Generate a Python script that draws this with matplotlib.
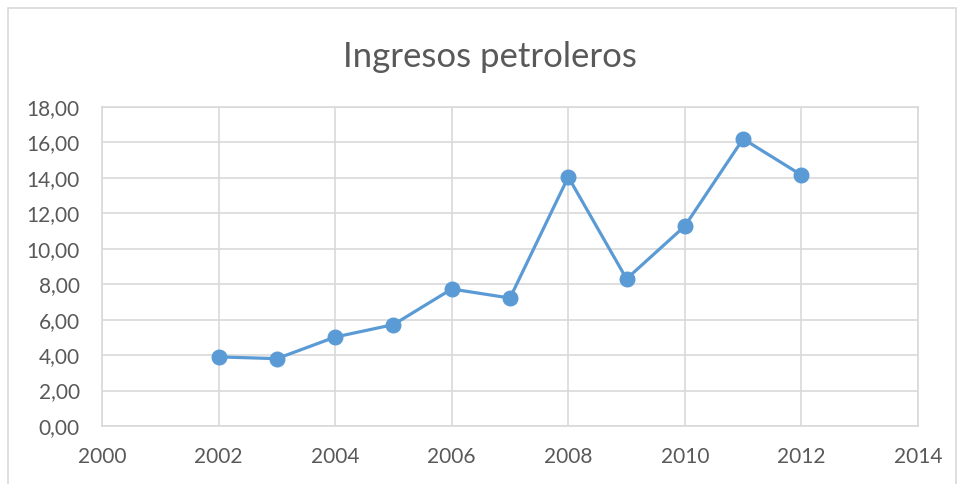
import matplotlib.pyplot as plt
from matplotlib.patches import Rectangle

# Data
years = [2002, 2003, 2004, 2005, 2006, 2007, 2008, 2009, 2010, 2011, 2012]
ingresos = [3.90, 3.80, 5.02, 5.72, 7.73, 7.22, 14.05, 8.30, 11.28, 16.20, 14.16]
y_ticks = [0, 2, 4, 6, 8, 10, 12, 14, 16, 18]
x_ticks = [2000, 2002, 2004, 2006, 2008, 2010, 2012, 2014]

plt.rcParams['font.family'] = ['Lato', 'DejaVu Sans']
txt = '#595959'
grid = '#d9d9d9'

fig = plt.figure(figsize=(9.59, 4.84), dpi=100)
ax = fig.add_axes([0.1064, 0.1198, 0.8508, 0.6592])

ax.plot(years, ingresos, color='#5b9bd5', lw=2.3, marker='o', ms=10.5,
        zorder=3, clip_on=False)

ax.set_xlim(2000, 2014)
ax.set_ylim(0, 18)
ax.set_xticks(x_ticks)
ax.set_yticks(y_ticks)
ax.set_yticklabels([f'{v:.2f}'.replace('.', ',') for v in y_ticks])
ax.tick_params(length=0, colors=txt, labelsize=15)
ax.tick_params(axis='y', pad=16)
ax.tick_params(axis='x', pad=15)
ax.grid(True, color=grid, lw=1.2)
for s in ax.spines.values():
    s.set_color(grid)
    s.set_linewidth(1.2)

fig.text(0.511, 0.882, 'Ingresos petroleros', ha='center', va='center',
         fontsize=25, color=txt)

# outer chart border
fig.patches.append(Rectangle((8 / 959, -0.01), 948 / 959, 1 - 8 / 484 + 0.01,
                             transform=fig.transFigure, fill=False,
                             edgecolor=grid, lw=1.2))

fig.savefig('out.png', dpi=100)
